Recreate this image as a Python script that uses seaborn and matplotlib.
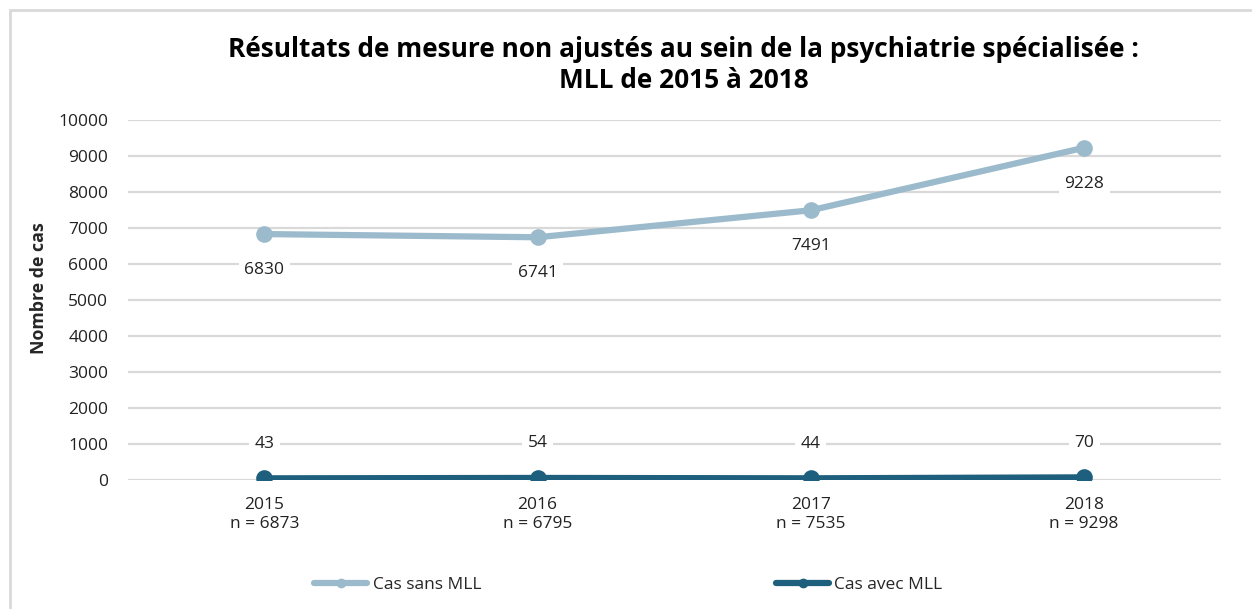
import matplotlib
matplotlib.use("Agg")
from matplotlib import pyplot as plt
from matplotlib.patches import Rectangle
import pandas as pd
import seaborn as sns

# data
years = ["2015", "2016", "2017", "2018"]
n_totals = [6873, 6795, 7535, 9298]
cas_sans_mll = [6830, 6741, 7491, 9228]
cas_avec_mll = [43, 54, 44, 70]
series_names = ["Cas sans MLL", "Cas avec MLL"]
colors = ["#9BBBCC", "#1E5F7D"]

tick_labels = [f"{y}\nn = {n}" for y, n in zip(years, n_totals)]

df = pd.DataFrame({
    "annee": list(range(len(years))) * 2,
    "cas": cas_sans_mll + cas_avec_mll,
    "serie": [series_names[0]] * len(years) + [series_names[1]] * len(years),
})

sns.set_theme(style="white")
plt.rcParams["font.family"] = ["Open Sans", "DejaVu Sans"]

fig = plt.figure(figsize=(12.52, 6.09), dpi=100)
ax = fig.add_axes([0.102, 0.212, 0.873, 0.591])

# outer chart frame
fig.patches.append(Rectangle((10 / 1252, -0.1), 1.2, 1 - 10 / 609 + 0.1,
                             transform=fig.transFigure, fill=False,
                             edgecolor="#D9D9D9", linewidth=2, zorder=0))

sns.lineplot(data=df, x="annee", y="cas", hue="serie", palette=colors,
             marker="o", markersize=12, markeredgewidth=0, linewidth=4.5,
             ax=ax, legend=False, zorder=3)

ax.set_ylim(0, 10000)
ax.set_xlim(-0.5, len(years) - 0.5)
ax.set_yticks(range(0, 10001, 1000))
ax.set_xticks(range(len(years)))
ax.set_xticklabels(tick_labels, fontsize=12.5, color="#222222", linespacing=1.25)
ax.tick_params(axis="y", labelsize=12.5, labelcolor="#222222", length=0, pad=14)
ax.tick_params(axis="x", length=0, pad=12)
ax.yaxis.grid(True, color="#D9D9D9", linewidth=1.6)
ax.set_axisbelow(True)
for s in ax.spines.values():
    s.set_visible(False)

ax.set_xlabel("")
ax.set_ylabel("Nombre de cas", fontsize=12.8, fontweight="bold")
ax.yaxis.set_label_coords(-0.073, 0.533)

# value labels
box = dict(facecolor="white", edgecolor="none", pad=4)
for i, v in enumerate(cas_sans_mll):
    ax.annotate(str(v), (i, v), xytext=(0, -26), textcoords="offset points",
                ha="center", va="center", fontsize=12.5, color="#222222",
                bbox=box, zorder=4)
for i, v in enumerate(cas_avec_mll):
    ax.annotate(str(v), (i, v), xytext=(0, 25), textcoords="offset points",
                ha="center", va="center", fontsize=12.5, color="#222222",
                bbox=box, zorder=4)

fig.text(0.546, 0.893, "Résultats de mesure non ajustés au sein de la psychiatrie spécialisée :\nMLL de 2015 à 2018",
         ha="center", va="center", fontsize=18.9, fontweight="bold",
         linespacing=1.2, color="black")

handles = [plt.Line2D([], [], color=c, linewidth=4.5, marker="o", markersize=6)
           for c in colors]
fig.legend(handles, series_names, loc="center", bbox_to_anchor=(0.502, 0.04),
           ncol=2, frameon=False, fontsize=12.5, handlelength=3.05,
           handletextpad=0.3, columnspacing=17)

fig.savefig("out.png", dpi=100)
